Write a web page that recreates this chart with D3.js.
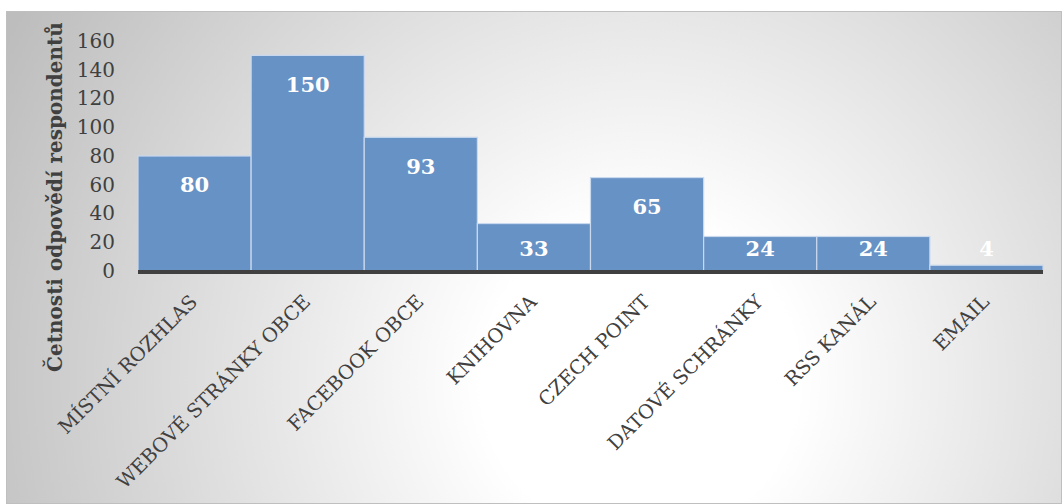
<!DOCTYPE html>
<html>
<head>
<meta charset="utf-8">
<script src="https://cdn.jsdelivr.net/npm/d3@7"></script>
<style>
  body { margin: 0; background: #fff; }
  svg { display: block; }
</style>
</head>
<body>
<svg width="1062" height="504"></svg>
<script>
const categories = ["MÍSTNÍ ROZHLAS", "WEBOVÉ STRÁNKY OBCE", "FACEBOOK OBCE", "KNIHOVNA",
  "CZECH POINT", "DATOVÉ SCHRÁNKY", "RSS KANÁL", "EMAIL"];
const counts = [80, 150, 93, 33, 65, 24, 24, 4];
const yTicks = [0, 20, 40, 60, 80, 100, 120, 140, 160];
const yTitle = "Četnosti odpovědí respondentů";

const data = categories.map((c, i) => ({ cat: c, val: counts[i] }));

var svg = d3.select("svg");
var width = +svg.attr("width");
var height = +svg.attr("height");

var margin = { top: 41, right: 19, bottom: 233, left: 138 };
var innerWidth = width - margin.left - margin.right;
var innerHeight = height - margin.top - margin.bottom;

const font = "'DejaVu Serif', 'Liberation Serif', serif";

// background
const defs = svg.append("defs");
const grad = defs.append("radialGradient")
  .attr("id", "bg")
  .attr("gradientUnits", "userSpaceOnUse")
  .attr("cx", 640).attr("cy", 380).attr("r", 720);
grad.append("stop").attr("offset", "0").attr("stop-color", "#ffffff");
grad.append("stop").attr("offset", "0.22").attr("stop-color", "#ffffff");
grad.append("stop").attr("offset", "1").attr("stop-color", "#bdbdbd");

svg.append("rect")
  .attr("x", 6.5).attr("y", 11.5)
  .attr("width", width - 7).attr("height", height - 12)
  .attr("fill", "url(#bg)")
  .attr("stroke", "#bfbfbf");

const xScale = d3.scaleBand()
  .domain(categories)
  .range([0, innerWidth])
  .padding(0);

const yScale = d3.scaleLinear()
  .domain([0, 160])
  .range([innerHeight, 0]);

const g = svg.append("g")
  .attr("transform", `translate(${margin.left}, ${margin.top})`);

// bars
g.selectAll("rect.bar")
  .data(data)
  .enter()
  .append("rect")
  .attr("class", "bar")
  .attr("x", (d) => xScale(d.cat))
  .attr("y", (d) => yScale(d.val))
  .attr("width", xScale.bandwidth())
  .attr("height", (d) => innerHeight - yScale(d.val))
  .attr("fill", "#6792c5")
  .attr("stroke", "#c9d9ee")
  .attr("stroke-width", 1.2);

// value labels
g.selectAll("text.val")
  .data(data)
  .enter()
  .append("text")
  .attr("class", "val")
  .attr("x", (d) => xScale(d.cat) + xScale.bandwidth() / 2)
  .attr("y", (d) => Math.min(yScale(d.val) + 29, innerHeight - 22))
  .attr("dy", "0.35em")
  .attr("text-anchor", "middle")
  .attr("font-family", font)
  .attr("font-weight", "bold")
  .attr("font-size", 21)
  .attr("fill", "#ffffff")
  .text((d) => d.val);

// baseline
g.append("line")
  .attr("x1", 0).attr("x2", innerWidth)
  .attr("y1", innerHeight + 1).attr("y2", innerHeight + 1)
  .attr("stroke", "#404040")
  .attr("stroke-width", 4);

// y axis
const yAxis = g.append("g")
  .call(d3.axisLeft(yScale).tickValues(yTicks).tickSize(0).tickPadding(23));
yAxis.select(".domain").remove();
yAxis.selectAll("text")
  .attr("font-family", font)
  .attr("font-size", 20)
  .attr("fill", "#404040");

// x axis labels
const xAxis = g.append("g")
  .attr("transform", `translate(0, ${innerHeight})`)
  .call(d3.axisBottom(xScale).tickSize(0));
xAxis.select(".domain").remove();
xAxis.selectAll("text")
  .attr("font-family", font)
  .attr("font-size", 19.5)
  .attr("fill", "#404040")
  .attr("text-anchor", "end")
  .attr("dy", "0.35em")
  .attr("transform", "translate(-3, 25) rotate(-45)");

// y title
svg.append("text")
  .attr("transform", `translate(55, 197) rotate(-90)`)
  .attr("text-anchor", "middle")
  .attr("dy", "0.35em")
  .attr("font-family", font)
  .attr("font-weight", "bold")
  .attr("font-size", 20)
  .attr("fill", "#404040")
  .text(yTitle);
</script>
</body>
</html>
